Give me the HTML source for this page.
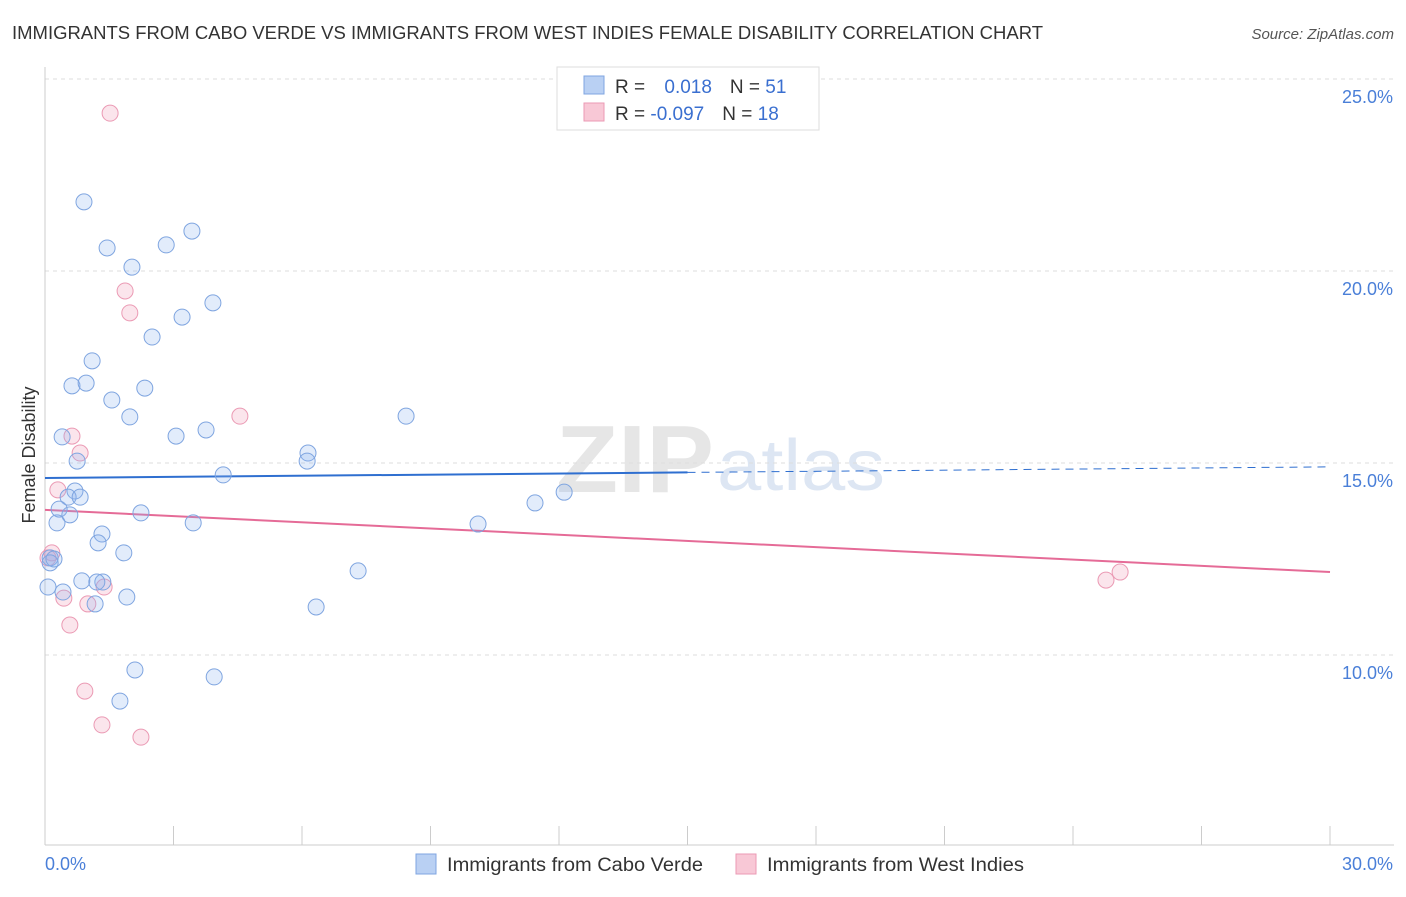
<!DOCTYPE html>
<html><head><meta charset="utf-8">
<style>
body{margin:0;background:#fff;font-family:"Liberation Sans",sans-serif;}
svg text{font-family:"Liberation Sans",sans-serif;}
</style></head>
<body>
<svg id="chart" width="1406" height="892" xmlns="http://www.w3.org/2000/svg">
<text x="12" y="39" font-size="18" fill="#333" textLength="1031" lengthAdjust="spacingAndGlyphs">IMMIGRANTS FROM CABO VERDE VS IMMIGRANTS FROM WEST INDIES FEMALE DISABILITY CORRELATION CHART</text>
<text x="1394" y="39" font-size="15" fill="#555" font-style="italic" text-anchor="end">Source: ZipAtlas.com</text>
<text x="556" y="492" font-size="96" fill="#e6e6e6" font-family="Liberation Serif" font-weight="bold" textLength="158" lengthAdjust="spacingAndGlyphs">ZIP</text>
<text x="717" y="490" font-size="72" fill="#dde6f3" textLength="168" lengthAdjust="spacingAndGlyphs">atlas</text>
<g id="grid"></g>
<g id="axes"></g>
<g id="trends"></g>
<g id="points"></g>
<text x="35" y="455" font-size="18" fill="#333" text-anchor="middle" transform="rotate(-90 35 455)">Female Disability</text>
<g>
<rect x="557" y="67" width="262" height="63" fill="#fff" stroke="#ddd"/>
<rect x="584" y="76" width="20" height="18" fill="#b9d0f3" stroke="#7fa5e0"/>
<rect x="584" y="103" width="20" height="18" fill="#f8c8d6" stroke="#eb9ab4"/>
<text x="615" y="93" font-size="19" fill="#333">R = <tspan fill="#3a6fd0" dx="14">0.018</tspan><tspan dx="18" fill="#333">N = </tspan><tspan fill="#3a6fd0">51</tspan></text>
<text x="615" y="120" font-size="19" fill="#333">R = <tspan fill="#3a6fd0">-0.097</tspan><tspan dx="18" fill="#333">N = </tspan><tspan fill="#3a6fd0">18</tspan></text>
</g>
<g>
<rect x="416" y="854" width="20" height="20" fill="#b9d0f3" stroke="#7fa5e0"/>
<text x="447" y="871" font-size="19" fill="#333" textLength="256" lengthAdjust="spacingAndGlyphs">Immigrants from Cabo Verde</text>
<rect x="736" y="854" width="20" height="20" fill="#f8c8d6" stroke="#eb9ab4"/>
<text x="767" y="871" font-size="19" fill="#333" textLength="257" lengthAdjust="spacingAndGlyphs">Immigrants from West Indies</text>
</g>
</svg>
<script>
const yTicks=[10,15,20,25];
const yTickLabels=["10.0%","15.0%","20.0%","25.0%"];
const xTickCount=10;
const blueX=[0.91,1.45,2.03,2.83,3.43,3.92,3.20,2.50,1.10,0.63,0.96,2.33,1.56,1.98,0.40,3.06,3.76,0.75,6.14,6.12,4.16,8.43,0.70,0.54,0.82,0.33,0.58,2.24,0.28,3.46,1.33,1.24,1.84,10.11,11.44,12.12,0.12,0.21,0.07,0.42,0.86,1.35,1.21,1.91,1.17,6.33,7.31,2.10,3.95,1.75,0.12];
const blueY=[21.80,20.60,20.10,20.68,21.04,19.17,18.80,18.28,17.66,17.01,17.08,16.95,16.64,16.20,15.68,15.70,15.86,15.05,15.26,15.05,14.69,16.22,14.27,14.11,14.11,13.80,13.65,13.70,13.44,13.44,13.15,12.92,12.66,13.41,13.96,14.24,12.53,12.50,11.77,11.64,11.93,11.90,11.90,11.51,11.33,11.25,12.19,9.61,9.43,8.80,12.40];
const pinkX=[1.52,1.87,1.98,4.55,0.63,0.82,0.30,0.16,0.07,0.44,1.00,1.38,0.58,0.93,1.33,2.24,24.77,25.10];
const pinkY=[24.11,19.48,18.91,16.22,15.70,15.26,14.30,12.66,12.53,11.48,11.33,11.77,10.78,9.06,8.18,7.86,11.95,12.16];
const blueTrend=[14.61,14.90];
const pinkTrend=[13.78,12.16];
const X=v=>45+v/30*1285, Y=v=>79+(25-v)*38.4;
const NS="http://www.w3.org/2000/svg";
function mk(p,t,a){const e=document.createElementNS(NS,t);for(const k in a)e.setAttribute(k,a[k]);p.appendChild(e);return e;}
const grid=document.getElementById('grid'),axes=document.getElementById('axes');
yTicks.forEach((t,i)=>{
 const l=mk(grid,'line',{x1:45,x2:1394,y1:Y(t),y2:Y(t),stroke:'#ddd','stroke-dasharray':'4,4'});
 
 
 const tx=mk(axes,'text',{x:1393,y:Y(t)+24,'font-size':18,fill:'#4a7fd8','text-anchor':'end'});
 tx.textContent=yTickLabels[i];
 
 
});
mk(axes,'line',{x1:45,x2:45,y1:67,y2:845,stroke:'#ccc'});
mk(axes,'line',{x1:45,x2:1394,y1:845,y2:845,stroke:'#ccc'});
for(let i=0;i<=xTickCount;i++){
 const x=X(i*30/xTickCount);
 const t=mk(axes,'line',{x1:x,x2:x,y1:826,y2:845,stroke:'#ccc'});
 
 
}
const x0=mk(axes,'text',{x:45,y:870,'font-size':18,fill:'#4a7fd8'});x0.textContent='0.0%';


const x1=mk(axes,'text',{x:1393,y:870,'font-size':18,fill:'#4a7fd8','text-anchor':'end'});x1.textContent='30.0%';


const pts=document.getElementById('points');
pinkX.forEach((v,i)=>{const c=mk(pts,'circle',{cx:X(v),cy:Y(pinkY[i]),r:8,fill:'rgba(240,150,180,0.25)',stroke:'#eb9ab4','stroke-width':1});
 
 });
blueX.forEach((v,i)=>{const c=mk(pts,'circle',{cx:X(v),cy:Y(blueY[i]),r:8,fill:'rgba(140,180,240,0.25)',stroke:'#7fa5e0','stroke-width':1});
 
 });
const tr=document.getElementById('trends');
const bm=blueTrend[0]+(blueTrend[1]-blueTrend[0])*0.5;
const b1=mk(tr,'line',{x1:X(0),y1:Y(blueTrend[0]),x2:X(15),y2:Y(bm),stroke:'#2f6fd0','stroke-width':2});


const b2=mk(tr,'line',{x1:X(15),y1:Y(bm),x2:X(30),y2:Y(blueTrend[1]),stroke:'#2f6fd0','stroke-width':1,'stroke-dasharray':'8,6'});


const p1=mk(tr,'line',{x1:X(0),y1:Y(pinkTrend[0]),x2:X(30),y2:Y(pinkTrend[1]),stroke:'#e56b97','stroke-width':2});


</script>
</body></html>
